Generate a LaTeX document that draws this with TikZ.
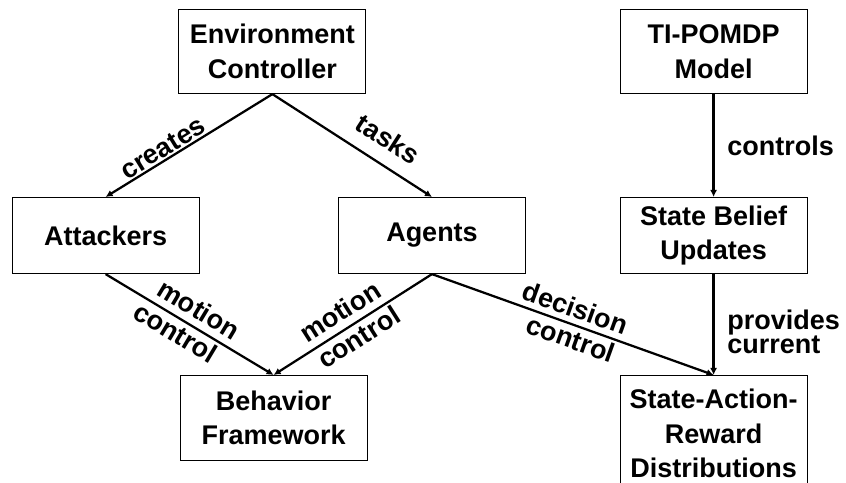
\documentclass[tikz,border=0pt]{standalone}
\usepackage{fontspec}
\setmainfont{Liberation Sans}
\usepackage{tikz}
\usetikzlibrary{arrows.meta,positioning}

\begin{document}
\begin{tikzpicture}[
  every node/.style={font=\fontsize{19.2}{24.5}\selectfont\bfseries},
  box/.style={draw, line width=0.8pt, minimum width=4.675cm, align=center, inner sep=0pt, anchor=north},
  flecha/.style={-{Latex[length=5pt,width=5pt]}, line width=1.6pt},
  etiq/.style={inner sep=0pt, sloped}
]
\useasboundingbox (0,0) rectangle (21.15,12.075);

% -------- Fila superior --------
\node[box, minimum height=2.1cm] (env) at (6.81,11.85) {Environment\\Controller};
\node[box, minimum height=2.1cm] (tipomdp) at (17.84,11.85) {TI-POMDP\\Model};

% -------- Fila central --------
\node[box, minimum height=1.9cm] (att) at (2.64,7.15) {Attackers};
\node[box, minimum height=1.9cm] (agt) at (10.8,7.15) {Agents};
\node[box, minimum height=1.9cm] (belief) at (17.84,7.15) {State Belief\\Updates};

% -------- Fila inferior --------
\node[box, minimum height=2.125cm] (behav) at (6.84,2.7) {Behavior\\Framework};
\node[box, minimum height=2.9cm] (sar) at (17.84,2.7) {State-Action-\\Reward\\Distributions};

% Flechas
\draw[flecha] (env.south) -- node[etiq, above=1pt, pos=0.62] {creates} (att.north);
\draw[flecha] (env.south) -- node[etiq, above=10pt, pos=0.64] {tasks} (agt.north);
\draw[flecha] (att.south) -- node[etiq, above=5pt, pos=0.5] {motion}
  node[etiq, below=2pt, pos=0.46] {control} (behav.north);
\draw[flecha] (agt.south) -- node[etiq, above=5pt, pos=0.52] {motion}
  node[etiq, below=2pt, pos=0.51] {control} (behav.north);
\draw[flecha] (agt.south) -- node[etiq, above=4pt, pos=0.49] {decision}
  node[etiq, below=2pt, pos=0.51] {control} (sar.north);
\draw[flecha] (tipomdp.south) -- node[right=9pt, inner sep=0pt] {controls} (belief.north);
\draw[flecha] (belief.south) -- node[right=9pt, inner sep=0pt, pos=0.57, align=left,
  font=\fontsize{19.2}{17}\selectfont\bfseries] {provides\\current} (sar.north);

\end{tikzpicture}
\end{document}
